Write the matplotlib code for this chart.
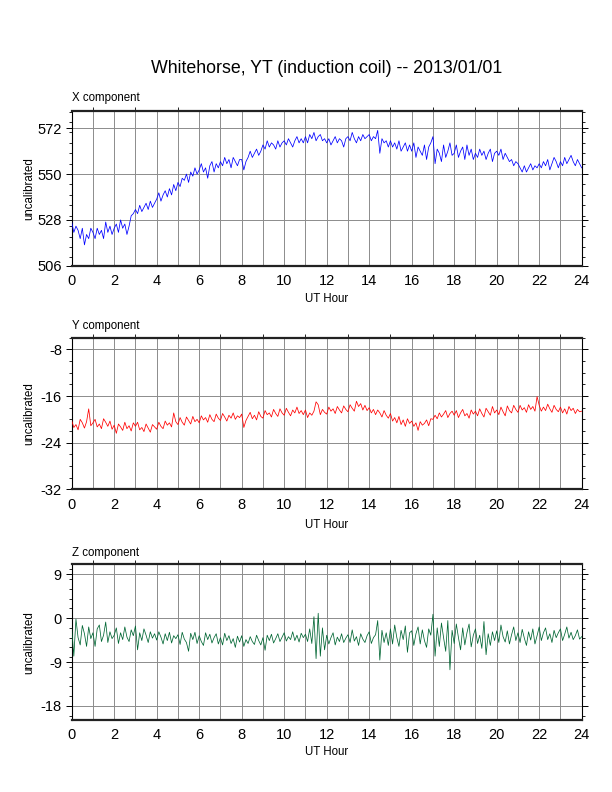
import numpy as np
import matplotlib
matplotlib.use("Agg")
import matplotlib.pyplot as plt
from matplotlib.ticker import MultipleLocator, FixedLocator

plt.rcParams['font.family'] = ['Liberation Sans', 'DejaVu Sans']
plt.rcParams['axes.unicode_minus'] = False

title = "Whitehorse, YT (induction coil) -- 2013/01/01"
hours = [i / 10 for i in range(241)]

x_vals = [
    527, 522, 525, 523, 519, 524, 516, 521, 519, 524,
    522, 519, 524, 521, 523, 519, 527, 522, 525, 521,
    524, 526, 522, 528, 524, 526, 521, 525, 530, 531,
    533, 531, 535, 532, 534, 536, 533, 537, 534, 536,
    538, 541, 537, 540, 542, 539, 543, 540, 545, 542,
    546, 544, 548, 547, 550, 546, 551, 549, 553, 550,
    552, 555, 551, 553, 548, 554, 556, 551, 555, 553,
    556, 554, 558, 555, 557, 553, 558, 556, 554, 557,
    557, 552, 556, 558, 561, 558, 560, 562, 559, 561,
    564, 562, 566, 563, 565, 564, 562, 566, 563, 565,
    566, 564, 567, 565, 563, 566, 568, 565, 567, 565,
    568, 565, 569, 567, 570, 566, 568, 569, 566, 567,
    565, 567, 564, 566, 568, 565, 567, 566, 563, 567,
    568, 566, 570, 567, 565, 568, 566, 569, 567, 568,
    569, 566, 568, 567, 571, 560, 567, 565, 566, 563,
    566, 563, 565, 562, 566, 561, 563, 565, 561, 564,
    561, 565, 558, 563, 561, 559, 564, 557, 563, 565,
    568, 555, 562, 560, 556, 564, 558, 561, 565, 559,
    560, 564, 558, 561, 563, 557, 564, 559, 562, 557,
    560, 558, 562, 559, 561, 557, 560, 562, 556, 560,
    561, 559, 562, 557, 560, 558, 556, 557, 554, 556,
    555, 553, 551, 554, 551, 553, 555, 552, 554, 553,
    555, 553, 556, 554, 557, 552, 555, 558, 556, 553,
    556, 554, 558, 555, 557, 559, 556, 554, 557, 555,
    553,
]

y_vals = [
    -20.2, -21.4, -20.9, -21.8, -20.0, -20.6, -21.5, -20.4, -18.2, -21.1,
    -20.6, -20.0, -21.3, -20.8, -21.6, -19.9, -20.5, -21.2, -20.3, -21.7,
    -21.0, -22.4, -20.8, -21.3, -21.9, -20.5, -21.6, -21.1, -22.0, -20.6,
    -21.2, -20.5, -21.8, -21.4, -22.1, -20.8, -21.5, -22.2, -20.9, -21.3,
    -21.7, -20.5, -21.2, -21.6, -20.3, -21.0, -20.6, -21.3, -18.9, -20.4,
    -20.9, -19.7, -20.5, -21.0, -19.6, -20.2, -20.8, -19.5, -20.4, -20.0,
    -20.6, -19.4, -20.1, -19.7, -20.5, -19.2, -20.0, -20.4, -19.1, -19.8,
    -20.2, -19.0, -19.6, -20.3, -19.3, -19.8, -18.9, -20.0, -19.4, -19.7,
    -19.1, -21.4, -20.2, -19.5, -18.8, -19.9, -19.3, -20.1, -18.7, -19.5,
    -19.8, -18.5, -19.2, -18.9, -19.6, -18.3, -19.0, -19.5, -18.2, -18.9,
    -19.3, -18.1, -18.8, -19.4, -18.4, -18.9, -17.9, -19.0, -18.5, -19.2,
    -18.4, -19.7, -18.9, -19.3, -18.6, -17.0, -17.5, -19.2, -18.3, -18.8,
    -19.1, -17.9, -18.6, -18.2, -19.0, -17.8, -18.4, -18.9, -17.7, -18.3,
    -18.7, -17.5, -18.1, -18.6, -16.9, -17.8, -17.3, -18.4, -17.6, -18.5,
    -18.0, -18.9, -18.3, -19.2, -18.4, -18.9, -19.6, -18.5, -19.3, -19.8,
    -19.0, -20.3, -19.7, -20.6, -19.5, -20.9, -20.1, -21.2, -19.9, -20.7,
    -20.3, -21.2, -20.6, -21.9, -20.4, -21.0, -20.7, -20.1, -21.1, -19.9,
    -20.0, -19.3, -19.9, -18.9, -19.6, -19.1, -18.5, -19.7, -19.0, -18.6,
    -19.3, -18.5, -19.7, -18.9, -18.3, -19.4, -19.0, -19.8, -18.4, -19.1,
    -18.6, -19.4, -18.2, -19.0, -19.6, -18.1, -18.7, -19.3, -17.8, -18.9,
    -18.4, -19.2, -17.9, -18.7, -19.4, -17.7, -18.5, -18.9, -17.6, -18.3,
    -18.8, -17.6, -18.4, -18.0, -18.8, -17.5, -18.3, -17.8, -18.6, -16.1,
    -17.6, -18.6, -17.9, -18.5, -17.4, -18.2, -18.8, -17.6, -18.3, -18.7,
    -17.9, -18.9, -18.2, -19.1, -17.8, -18.5, -18.1, -19.0, -18.3, -18.7,
    -18.6,
]

z_vals = [
    -2.0, -7.8, -0.2, -4.0, -5.5, -1.5, -3.2, -5.8, -1.8, -4.2,
    -3.0, -5.8, -2.2, -1.4, -4.8, -3.5, -0.8, -5.0, -2.8, -4.2,
    -3.5, -2.0, -5.2, -3.0, -4.4, -1.8, -3.9, -4.8, -2.4, -3.6,
    -1.6, -6.5, -3.0, -4.6, -2.2, -3.5, -5.0, -2.8, -4.1, -3.2,
    -4.5, -2.8, -3.9, -5.3, -3.2, -4.6, -2.9, -5.1, -3.6, -4.2,
    -3.4, -5.4, -2.9, -4.3, -5.0, -6.8, -3.1, -4.4, -2.9, -5.2,
    -3.6, -4.8, -5.6, -3.0, -4.4, -3.3, -5.1, -4.0, -3.2, -5.3,
    -4.0, -5.5, -3.1, -4.6, -3.6, -5.2, -4.2, -6.0, -3.7, -4.9,
    -3.6, -5.8, -4.4, -5.2, -3.8, -4.8, -5.4, -3.5, -4.6, -5.5,
    -4.0, -6.6, -3.5, -4.6, -3.3, -5.1, -4.2, -3.2, -4.8, -3.9,
    -3.0, -4.7, -3.8, -4.4, -2.8, -4.6, -3.5, -4.9, -3.1, -4.0,
    -3.3, -4.8, -2.2, -5.2, 0.3, -8.3, 1.0, -7.8, -2.0, -6.5,
    -3.5, -5.3, -4.0, -3.0, -5.5, -3.9, -4.8, -3.2, -5.0, -4.1,
    -3.4, -5.0, -2.4, -4.7, -3.8, -5.6, -3.2, -4.3, -5.0, -3.6,
    -2.8, -5.2, -4.0, -3.4, -0.5, -8.6, -2.5, -5.0, -3.0, -5.6,
    -2.2, -5.3, -1.4, -4.0, -5.8, -2.5, -4.4, -1.6, -7.0, -3.0,
    -2.6, -5.6, -3.2, -1.8, -5.3, -2.4, -4.6, -6.0, -2.2, -3.5,
    0.8, -7.8, -2.0, -5.8, -1.0, -4.0, -6.8, -0.5, -10.6, -2.5,
    -5.2, -1.2, -4.0, -6.5, -2.0, -5.5, -3.0, -1.2, -5.9, -3.5,
    -2.2, -5.2, -3.5, -6.2, -0.7, -7.5, -3.2, -5.6, -2.8, -4.6,
    -2.6, -5.0, -1.4, -3.8, -4.9, -2.6, -5.3, -3.4, -1.8, -4.6,
    -3.0, -5.0, -2.3, -4.1, -5.6, -2.8, -4.5, -2.2, -5.3, -3.6,
    -1.8, -4.6, -3.0, -2.0, -4.4, -3.2, -5.0, -2.5, -4.0, -3.0,
    -2.2, -4.6, -3.3, -1.8, -4.1, -2.9, -4.4, -3.6, -2.4, -4.3,
    -3.8,
]

panel_titles = ["X component", "Y component", "Z component"]
x_ticks_major = [506, 528, 550, 572]
y_ticks_major = [-32, -24, -16, -8]
z_ticks_major = [-18, -9, 0, 9]

W, H = 612, 792
fig = plt.figure(figsize=(W / 100, H / 100), dpi=100)

left_px, right_px = 71.7, 581.7
panels = [
    dict(top=111.0, bot=265.7, data=x_vals, color="#0000ff", ylim=(506, 580.3),
         major=x_ticks_major, minor=5, title_base=101.5, xlabel_base=302.0),
    dict(top=337.7, bot=489.3, data=y_vals, color="#ff0000", ylim=(-32, -6.0),
         major=y_ticks_major, minor=2, title_base=329.3, xlabel_base=528.5),
    dict(top=564.3, bot=720.0, data=z_vals, color="#006633", ylim=(-20.9, 11.05),
         major=z_ticks_major, minor=2, title_base=556.0, xlabel_base=755.0),
]

for p, ttl in zip(panels, panel_titles):
    ax = fig.add_axes([left_px / W, 1 - p["bot"] / H,
                       (right_px - left_px) / W, (p["bot"] - p["top"]) / H])
    ax.plot(hours, p["data"], color=p["color"], lw=0.55, zorder=3)
    ax.set_xlim(0, 24)
    ax.set_ylim(*p["ylim"])
    ax.xaxis.set_major_locator(MultipleLocator(2))
    ax.xaxis.set_minor_locator(MultipleLocator(1))
    ax.yaxis.set_major_locator(FixedLocator(p["major"]))
    ax.yaxis.set_minor_locator(MultipleLocator(p["minor"]))
    ax.grid(True, which="both", axis="x", color="#8c8c8c", lw=0.7, zorder=1)
    ax.grid(True, which="major", axis="y", color="#8c8c8c", lw=0.7, zorder=1)
    ax.set_axisbelow(True)
    ax.tick_params(axis="x", which="both", bottom=False, top=True,
                   direction="out", length=3, width=0.6, labelsize=10.5, pad=6)
    ax.tick_params(axis="x", which="major", bottom=True, length=0, pad=6)
    ax.tick_params(axis="y", which="major", left=True, right=True,
                   direction="out", length=4, width=0.7, labelsize=10.5, pad=3)
    ax.tick_params(axis="y", which="minor", left=True, right=True,
                   direction="out", length=2.5, width=0.6)
    for s in ("top", "bottom"):
        ax.spines[s].set_linewidth(1.6)
        ax.spines[s].set_color("#222222")
    for s in ("left", "right"):
        ax.spines[s].set_linewidth(0.8)
    fig.text(left_px / W, 1 - p["title_base"] / H, ttl, fontsize=8.3,
             ha="left", va="baseline")
    fig.text((left_px + right_px) / 2 / W, 1 - p["xlabel_base"] / H, "UT Hour",
             fontsize=8.3, ha="center", va="baseline")
    fig.text(29 / W, 1 - (p["top"] + p["bot"]) / 2 / H, "uncalibrated",
             fontsize=8.3, rotation=90, ha="center", va="center")

fig.text((left_px + right_px) / 2 / W, 1 - 73 / H, title, fontsize=12.8,
         ha="center", va="baseline")

fig.savefig("out.png", dpi=100)
